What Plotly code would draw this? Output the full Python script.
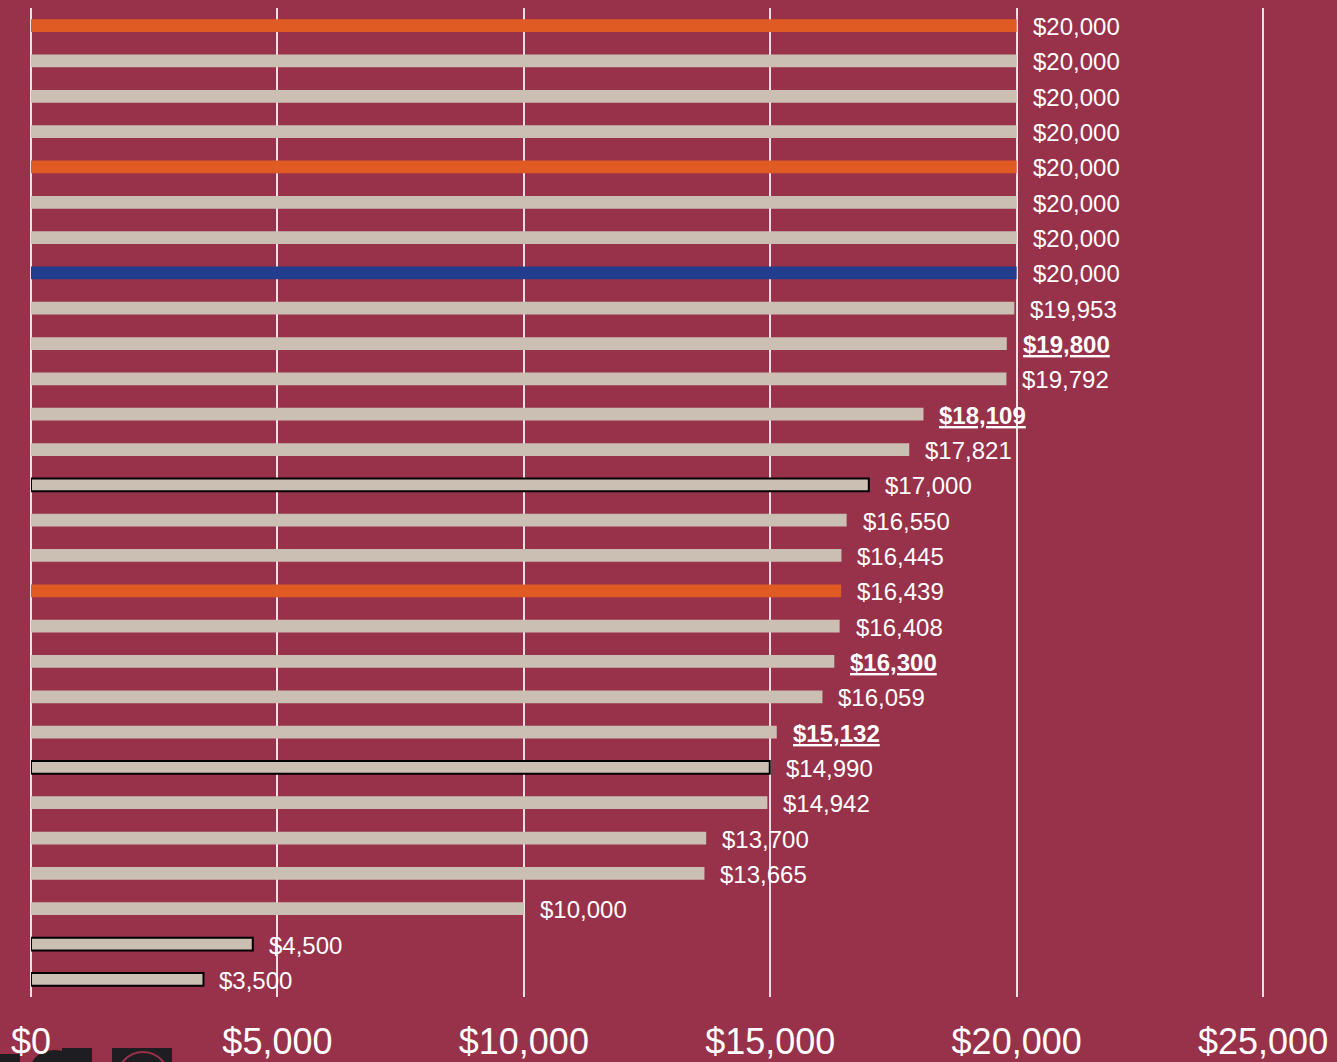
import plotly.graph_objects as go

# ---- data ----
categories = [f"Item {i+1}" for i in range(28)]
values = [20000, 20000, 20000, 20000, 20000, 20000, 20000, 20000, 19953, 19800,
          19792, 18109, 17821, 17000, 16550, 16445, 16439, 16408, 16300, 16059,
          15132, 14990, 14942, 13700, 13665, 10000, 4500, 3500]
kinds = ["orange", "plain", "plain", "plain", "orange", "plain", "plain", "blue",
         "plain", "bold", "plain", "bold", "plain", "outlined", "plain", "plain",
         "orange", "plain", "bold", "plain", "bold", "outlined", "plain", "plain",
         "plain", "plain", "outlined", "outlined"]
tick_vals = [0, 5000, 10000, 15000, 20000, 25000]
tick_text = ["$0", "$5,000", "$10,000", "$15,000", "$20,000", "$25,000"]

BG = "#98314A"
fill_map = {"orange": "#E05A24", "blue": "#233D8E", "plain": "#CBBFB3",
            "bold": "#CBBFB3", "outlined": "#CBBFB3"}
colors = [fill_map[k] for k in kinds]
line_w = [2 if k == "outlined" else 0 for k in kinds]

fig = go.Figure()
fig.add_trace(go.Bar(
    y=categories, x=values, orientation="h",
    marker=dict(color=colors, line=dict(color="black", width=line_w)),
    width=0.36, hoverinfo="x",
))

for c, v, k in zip(categories, values, kinds):
    label = f"${v:,}"
    if k == "bold":
        label = f"<u><b>{label}</b></u>"
    fig.add_annotation(x=v, y=c, text=label, xanchor="left", yanchor="middle",
                       xshift=14, yshift=-1, showarrow=False,
                       font=dict(family="Liberation Sans, Arial", size=24, color="white"))

# partial logo shapes at bottom-left (pixel-ish placement in paper coords)
def px(x):
    return (x - 31) / 1306
def py(y):
    return (997 - y) / 989

fig.add_shape(type="rect", xref="paper", yref="paper", x0=px(0), x1=px(20), y0=py(1062), y1=py(1054),
              fillcolor="#1E1E22", line_width=0, layer="below")
fig.add_shape(type="circle", xref="paper", yref="paper", x0=px(30), x1=px(80), y0=py(1090), y1=py(1050),
              fillcolor="#1E1E22", line_width=0, layer="below")
fig.add_shape(type="rect", xref="paper", yref="paper", x0=px(62), x1=px(92), y0=py(1062), y1=py(1048),
              fillcolor="#1E1E22", line_width=0, layer="below")
fig.add_shape(type="rect", xref="paper", yref="paper", x0=px(112), x1=px(172), y0=py(1062), y1=py(1048),
              fillcolor="#1E1E22", line_width=0, layer="below")
fig.add_shape(type="circle", xref="paper", yref="paper", x0=px(116), x1=px(170), y0=py(1110), y1=py(1052),
              fillcolor="rgba(0,0,0,0)", line=dict(color=BG, width=2), layer="below")

fig.update_layout(
    width=1337, height=1062,
    paper_bgcolor=BG, plot_bgcolor=BG,
    margin=dict(l=31, r=0, t=8, b=65, autoexpand=False),
    showlegend=False,
    font=dict(family="Liberation Sans, Arial", color="white"),
    xaxis=dict(range=[0, 26500], tickvals=tick_vals, ticktext=tick_text,
               showgrid=True, gridcolor="rgba(255,255,255,0.85)", gridwidth=2,
               zeroline=True, zerolinecolor="rgba(255,255,255,0.85)", zerolinewidth=2,
               tickfont=dict(size=36, color="white"), ticks="outside", ticklen=0,
               ticklabelstandoff=13, automargin=False, fixedrange=True),
    yaxis=dict(autorange="reversed", showticklabels=False, showgrid=False,
               zeroline=False, automargin=False),
)

fig.write_html("out.html", config={"displayModeBar": False},
               post_script="document.body.style.margin='0';document.body.style.overflow='hidden';")
